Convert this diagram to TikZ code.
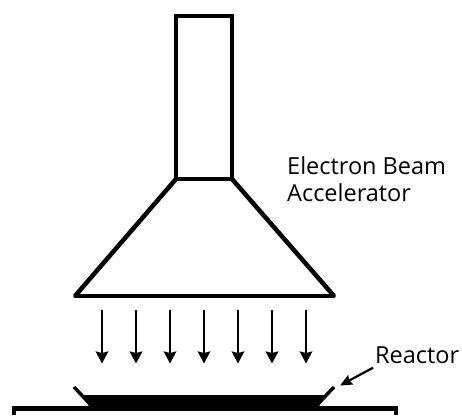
\documentclass[tikz,border=0pt]{standalone}
\usepackage{fontspec}
\setmainfont{Open Sans}
\usetikzlibrary{arrows.meta}
\begin{document}
\begin{tikzpicture}[x=1pt, y=-1pt, wall/.style={draw, line width=4.5pt, line join=miter}, thin wall/.style={draw, line width=3.5pt}, beam/.style={draw, line width=2.4pt, -{Stealth[length=12pt,width=12.5pt,inset=1.5pt]}}, label/.style={align=left, inner sep=0pt, anchor=west, font=\fontsize{23.5}{27.5}\selectfont}]
	\useasboundingbox (0,0) rectangle (462,415);
	% accelerator
	\draw[wall] (176,16) rectangle (232,179);
	\draw[wall] (176,179) -- (75,296);
	\draw[wall] (232,179) -- (334,296);
	\draw[thin wall, line cap=round] (75,296) -- (334,296);
	\node[label] (A) at (287,179) {Electron Beam\\Accelerator};
	% beam
	\foreach \x in {102,136,170,204,238,272,306}{
		\coordinate (B\x) at (\x,310);
		\coordinate (E\x) at (\x,363.5);
		\draw[beam] (B\x) -- (E\x);
	}
	% reactor
	\fill (84,395) -- (324,395) -- (318,409) -- (90,409) -- cycle;
	\draw[thin wall] (74,387) -- (91,405);
	\draw[thin wall] (334,387) -- (317,405);
	\draw[wall] (13.8,415) -- (13.8,408.5) -- (396,408.5) -- (396,415);
	\node[label] (R) at (375,355) {Reactor};
	\coordinate (T) at (340,385.5);
	\draw[line width=2.2pt, -{Stealth[length=12pt,width=10.5pt,inset=1.5pt]}] (R.south west) ++(-2,4) -- (T);
\end{tikzpicture}
\end{document}
